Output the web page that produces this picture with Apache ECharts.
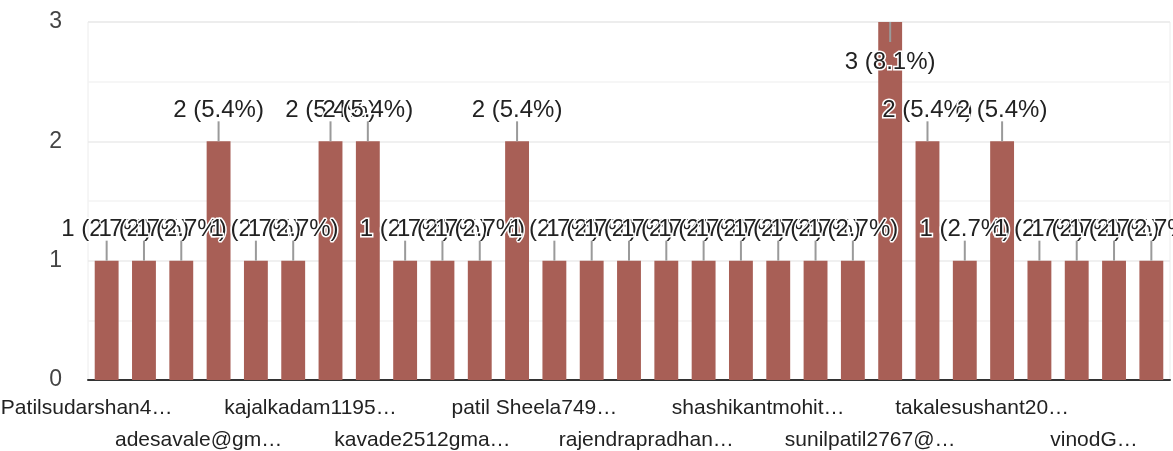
<!DOCTYPE html>
<html lang="en">
<head>
    <meta charset="utf-8">
    <title>Responses</title>
    <script src="https://cdn.jsdelivr.net/npm/echarts@6/dist/echarts.min.js"></script>
    <style>
        html, body { margin: 0; padding: 0; background: #fff; }
        #main { width: 1173px; height: 451px; }
    </style>
</head>
<body>
<div id="main"></div>
<script type="text/javascript">
    // category names (only every third one is legible in the picture)
    var categories = [
        'Patilsudarshan4…', 'entry 2', 'entry 3',
        'adesavale@gm…', 'entry 5', 'entry 6',
        'kajalkadam1195…', 'entry 8', 'entry 9',
        'kavade2512gma…', 'entry 11', 'entry 12',
        'patil Sheela749…', 'entry 14', 'entry 15',
        'rajendrapradhan…', 'entry 17', 'entry 18',
        'shashikantmohit…', 'entry 20', 'entry 21',
        'sunilpatil2767@…', 'entry 23', 'entry 24',
        'takalesushant20…', 'entry 26', 'entry 27',
        'vinodG…', 'entry 29'
    ];
    var counts = [1, 1, 1, 2, 1, 1, 2, 2, 1, 1, 1, 2, 1, 1, 1, 1, 1, 1, 1, 1, 1, 3, 2, 1, 2, 1, 1, 1, 1];
    var yTicks = [0, 1, 2, 3];

    var total = counts.reduce(function (a, b) { return a + b; }, 0);
    var maxVal = yTicks[yTicks.length - 1];
    var LEAD = 20;   // leader line length in px

    // bar data: the tallest bar (touching the top) gets its label inside
    var barData = counts.map(function (v) {
        if (v === maxVal) {
            return { value: v, label: { position: 'insideTop', distance: 28 } };
        }
        return v;
    });
    var leadData = counts.map(function (v, i) { return [i, v]; });

    // two label rows: each row is its own bottom axis
    function rowAxis(row) {
        return {
            type: 'category',
            data: categories,
            position: 'bottom',
            axisLine: { show: row === 0, lineStyle: { color: '#333', width: 2 } },
            axisTick: { show: false },
            splitLine: { show: false },
            axisLabel: {
                interval: function (idx) { return idx % 6 === row * 3; },
                margin: 12 + row * 32,
                fontSize: 21,
                lineHeight: 32,
                color: '#222',
                padding: [0, 40, 0, 0]
            }
        };
    }

    var myChart = echarts.init(document.getElementById('main'));

    var option = {
        animation: false,
        textStyle: { fontFamily: 'Liberation Sans, Arial, sans-serif' },
        grid: {
            left: 88, right: 3, top: 22, bottom: 71,
            outerBoundsMode: 'none',
            show: true, borderColor: '#ececec', borderWidth: 1
        },
        xAxis: [rowAxis(0), rowAxis(1)],
        yAxis: {
            type: 'value',
            min: yTicks[0],
            max: maxVal,
            interval: 1,
            axisLine: { show: false },
            axisTick: { show: false },
            axisLabel: { fontSize: 23, color: '#444', margin: 26 },
            splitLine: { lineStyle: { color: '#ebebeb', width: 1.5 } },
            minorTick: { show: false, splitNumber: 2 },
            minorSplitLine: { show: true, lineStyle: { color: '#f4f4f4', width: 1.5 } }
        },
        series: [{
            type: 'bar',
            data: barData,
            barWidth: '64%',
            itemStyle: { color: '#a85f56' },
            z: 2,
            label: {
                show: true,
                position: 'top',
                distance: 19,
                fontSize: 24,
                color: '#222',
                textBorderColor: '#fff',
                textBorderWidth: 3,
                formatter: function (p) {
                    return p.value + ' (' + (p.value / total * 100).toFixed(1) + '%)';
                }
            }
        }, {
            // leader lines from bar top to its label
            type: 'custom',
            data: leadData,
            z: 3,
            silent: true,
            renderItem: function (params, api) {
                var p = api.coord([api.value(0), api.value(1)]);
                var dir = api.value(1) === maxVal ? 1 : -1;
                return {
                    type: 'line',
                    shape: { x1: p[0], y1: p[1], x2: p[0], y2: p[1] + dir * LEAD },
                    style: { stroke: '#9a9a9a', lineWidth: 2 }
                };
            }
        }]
    };

    myChart.setOption(option);
</script>
</body>
</html>
